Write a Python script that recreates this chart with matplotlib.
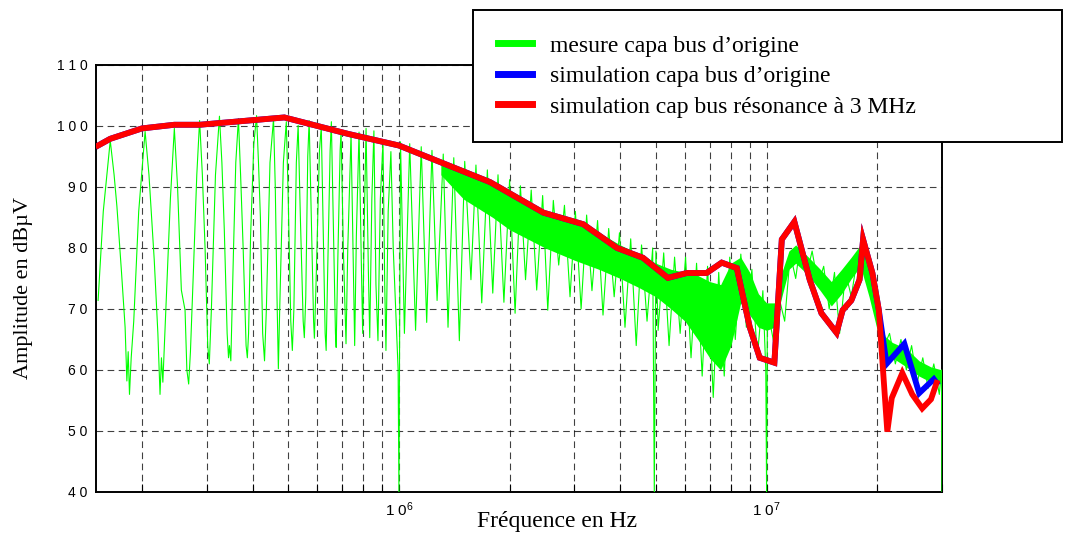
import matplotlib
matplotlib.use("Agg")
import matplotlib.pyplot as plt
import numpy as np

mes_f = [0.152, 0.157, 0.164, 0.168, 0.171, 0.176, 0.180, 0.182, 0.1835, 0.185, 0.187, 0.190, 0.196,
         0.204, 0.209, 0.216, 0.221, 0.224, 0.226, 0.228, 0.233, 0.239, 0.245, 0.250, 0.256, 0.262,
         0.265, 0.268, 0.271, 0.276, 0.282, 0.287, 0.292, 0.297, 0.302, 0.305, 0.309, 0.317, 0.325,
         0.330, 0.335, 0.341, 0.344, 0.346, 0.349, 0.355, 0.360, 0.366, 0.371, 0.377, 0.384, 0.387,
         0.390, 0.395, 0.403, 0.410, 0.415, 0.420, 0.426, 0.431, 0.436, 0.446, 0.456, 0.461, 0.466,
         0.470, 0.474, 0.485, 0.494, 0.500, 0.508, 0.513, 0.518, 0.526, 0.532, 0.540, 0.549, 0.553,
         0.558, 0.565, 0.570, 0.578, 0.586, 0.589, 0.595, 0.608, 0.615, 0.622, 0.630, 0.634, 0.640,
         0.650, 0.655, 0.664, 0.672, 0.675, 0.682, 0.692, 0.696, 0.706, 0.718, 0.726, 0.741, 0.752,
         0.758, 0.766, 0.779, 0.790, 0.797, 0.806, 0.814, 0.826, 0.833, 0.844, 0.855, 0.866, 0.877,
         0.890, 0.905, 0.915, 0.922, 0.935, 0.951, 0.965, 0.980, 0.995, 1.000,
         1.01, 1.035, 1.07, 1.11, 1.15, 1.19, 1.23, 1.27, 1.32, 1.36, 1.41, 1.46, 1.51, 1.57, 1.62,
         1.68, 1.74, 1.80, 1.86, 1.93, 2.00, 2.07, 2.14, 2.21, 2.29, 2.37, 2.46, 2.54, 2.63, 2.72,
         2.82, 2.92, 3.02, 3.13, 3.24, 3.35, 3.47, 3.59, 3.72, 3.85, 3.98, 4.12, 4.27, 4.42, 4.57,
         4.73, 4.90, 4.95, 5.00, 5.07, 5.25, 5.43, 5.62, 5.82, 6.02, 6.23, 6.45, 6.68, 6.91, 7.16,
         7.41, 7.67, 7.94, 8.22, 8.51, 8.81, 9.12, 9.44, 9.77, 9.95, 10.0, 10.05, 10.5, 10.8, 11.2,
         11.6, 12.0, 12.4, 12.9, 13.3, 13.8, 14.3, 14.8, 15.3, 15.8, 16.4, 17.0, 17.6, 18.2, 18.8,
         19.5, 20.2, 20.9, 21.6, 22.4, 23.2, 24.0, 24.8, 25.7, 26.6, 27.5, 28.5, 29.5, 29.9, 30.0]
mes_db = [71.4, 86.0, 97.6, 92.0, 86.8, 76.0, 67.0, 58.2, 63.0, 56.0, 62.0, 68.0, 86.0,
          99.1, 92.0, 78.1, 66.0, 56.0, 62.0, 58.0, 72.0, 88.0, 99.6, 90.0, 73.1, 69.8,
          60.0, 57.7, 63.0, 76.0, 92.0, 100.9, 92.0, 80.0, 64.0, 61.0, 70.0, 92.0, 101.6,
          94.0, 83.0, 66.0, 62.0, 64.0, 61.5, 80.0, 94.0, 101.2, 92.0, 80.0, 64.0, 62.0,
          66.0, 82.0, 97.0, 101.7, 94.0, 85.0, 66.0, 61.5, 70.0, 94.0, 101.2, 90.0, 72.0,
          60.2, 70.0, 94.0, 100.7, 88.0, 68.0, 63.2, 70.0, 94.0, 100.1, 84.0, 68.0, 65.3,
          72.0, 95.0, 100.9, 84.0, 68.0, 65.2, 74.0, 96.0, 99.9, 84.0, 66.0, 63.2, 76.0,
          96.0, 100.7, 82.0, 66.0, 63.7, 78.0, 96.0, 99.1, 80.0, 64.3, 80.0, 98.7, 76.0,
          64.0, 82.0, 99.0, 78.0, 66.0, 86.0, 99.6, 76.0, 65.3, 88.0, 99.2, 74.0, 64.8,
          88.0, 97.4, 74.0, 63.2, 86.0, 95.8, 80.0, 70.0, 60.0, 40.0,
          97.4, 66.0, 97.1, 66.5, 96.6, 67.8, 96.0, 71.4, 95.4, 67.0, 94.8, 64.8, 94.2, 74.8, 93.6,
          71.0, 92.8, 72.6, 92.0, 71.1, 91.2, 69.3, 90.2, 74.8, 89.5, 73.1, 88.6, 69.8, 87.8, 77.2,
          87.0, 72.0, 86.0, 70.0, 85.4, 73.0, 84.5, 69.0, 83.2, 72.0, 82.5, 67.0, 81.5, 64.0, 80.5,
          68.0, 80.0, 40.0, 79.5, 66.5, 79.2, 64.0, 78.5, 66.0, 78.5, 62.0, 77.5, 59.0, 77.0, 55.5,
          76.0, 59.0, 78.5, 65.0, 79.0, 67.0, 76.5, 62.0, 73.0, 60.0, 40.0, 70.0, 64.0, 72.0, 68.0,
          79.0, 75.0, 81.5, 76.0, 79.5, 74.0, 77.0, 70.0, 76.0, 66.0, 76.0, 72.0, 78.0, 76.0, 80.0,
          72.0, 71.0, 64.0, 66.0, 61.0, 65.0, 60.0, 64.0, 58.0, 62.0, 57.0, 61.0, 56.0, 60.0, 40.0]

# dense core of the measured band above 1.3 MHz
band_f = [1.3, 1.5, 1.8, 2, 2.5, 3, 3.5, 4, 4.5, 5, 5.5, 6, 6.5, 7, 7.5, 8, 8.5, 9, 9.5, 10,
          10.5, 11, 11.5, 12, 13, 14, 15, 16, 17, 18, 19, 20, 21, 22, 24, 26, 28, 30]
band_hi = [94.5, 92.5, 90.5, 89, 86, 84, 82.5, 80.5, 79, 77.5, 76.5, 76, 75.5, 74.5, 74, 77.5, 78.5,
           76, 72.5, 71, 71, 76, 79.5, 80.5, 78.5, 76.5, 74.5, 76.5, 78.5, 80.5, 76.5, 70.5, 65.5,
           64.5, 63.5, 61.5, 60.5, 60]
band_lo = [92, 88, 85, 83, 80, 78, 76.5, 75, 73.5, 72, 70, 68, 65, 62, 60, 64, 71, 69, 67,
           66.5, 67, 72, 76.5, 77.5, 75.5, 73, 70.5, 72.5, 75, 77, 72, 66.5, 62, 62, 60.5, 59, 58, 58]

# simulation, bus capacitor resonating at 3 MHz
res_f = [0.152, 0.164, 0.200, 0.245, 0.287, 0.488, 0.728, 1.00, 1.77, 2.47, 3.17, 3.92, 4.61,
         5.39, 6.07, 6.87, 7.55, 8.30, 9.00, 9.58, 10.5, 11.0, 11.9, 13.1, 14.1, 15.5, 16.1,
         17.0, 17.9, 18.3, 19.4, 20.2, 21.3, 21.9, 23.4, 24.9, 26.5, 28.0, 29.0]
res_db = [96.8, 97.9, 99.6, 100.2, 100.2, 101.4, 98.7, 96.8, 90.8, 85.8, 83.9, 80.0, 78.4,
          75.1, 75.9, 75.9, 77.6, 76.7, 67.0, 62.0, 61.2, 81.4, 84.3, 74.8, 69.3, 66.1, 69.8,
          71.4, 74.8, 81.4, 75.9, 69.8, 49.9, 55.4, 59.5, 56.0, 53.7, 55.2, 57.9]

# simulation, original bus capacitor (differs above 20 MHz)
orig_tail_f = [21.2, 23.7, 26.0, 28.5, 29.0]
orig_tail_db = [61.0, 64.3, 56.2, 58.5, 57.9]

ytick_vals = [40, 50, 60, 70, 80, 90, 100, 110]
ytick_labels = ["4 0", "5 0", "6 0", "7 0", "8 0", "9 0", "1 0 0", "1 1 0"]
xtick_vals = [1e6, 1e7]
xtick_labels = ["1 0$^{6}$", "1 0$^{7}$"]

plt.rcParams['mathtext.default'] = 'regular'
serif = ['Liberation Serif', 'DejaVu Serif']
narrow = ['Liberation Sans Narrow', 'Liberation Sans', 'DejaVu Sans']

fig = plt.figure(figsize=(10.69, 5.37), dpi=100)
ax = fig.add_axes([0.0898, 0.0838, 0.7914, 0.7952])

mf = np.array(mes_f) * 1e6
ax.fill_between(np.array(band_f) * 1e6, band_lo, band_hi, color='#00ff00', lw=0, zorder=2)
ax.plot(mf, mes_db, color='#00ff00', lw=0.8, zorder=3, label="mesure capa bus d\u2019origine")

k = res_f.index(20.2) + 1
orig_f = res_f[:k] + orig_tail_f
orig_db = res_db[:k] + orig_tail_db
ax.plot(np.array(orig_f) * 1e6, orig_db, color='#0000ff', lw=4.2, zorder=4,
        solid_joinstyle='miter', label="simulation capa bus d\u2019origine")
ax.plot(np.array(res_f) * 1e6, res_db, color='#ff0000', lw=4.2, zorder=5,
        solid_joinstyle='miter', label="simulation cap bus r\u00e9sonance \u00e0 3 MHz")

ax.set_xscale('log')
ax.set_xlim(1.5e5, 3e7)
ax.set_ylim(40, 110)

ax.set_yticks(ytick_vals)
ax.set_yticklabels(ytick_labels, family=narrow, fontsize=10)
ax.set_xticks(xtick_vals)
ax.set_xticklabels(xtick_labels, family=narrow, fontsize=11)
ax.xaxis.set_minor_formatter(matplotlib.ticker.NullFormatter())
ax.tick_params(axis='both', which='both', direction='in', length=6, width=0.8, pad=6)
ax.tick_params(axis='y', length=0)

ax.grid(True, which='both', axis='x', color='black', ls=(0, (6, 4)), lw=0.8, alpha=0.75)
ax.grid(True, which='major', axis='y', color='black', ls=(0, (6, 4)), lw=0.8, alpha=0.75)
ax.set_axisbelow(True)
for s in ax.spines.values():
    s.set_linewidth(1.4)

ax.set_xlabel("Fr\u00e9quence en Hz", family=serif, fontsize=17)
ax.xaxis.set_label_coords(0.545, -0.045)
ax.set_ylabel("Amplitude en dB\u00b5V", family=serif, fontsize=16)
ax.yaxis.set_label_coords(-0.075, 0.478)

leg = ax.legend(loc='upper left', bbox_to_anchor=(0.4425, 0.730, 0.551, 0.251),
                bbox_transform=fig.transFigure, mode='expand', fancybox=False,
                framealpha=1, edgecolor='black', prop={'family': serif, 'size': 17},
                handlelength=1.45, handletextpad=0.75, labelspacing=0.38, borderpad=1.05,
                borderaxespad=0)
leg.get_frame().set_linewidth(1.4)
for h in leg.legend_handles:
    h.set_linewidth(5)
leg.set_zorder(10)

plt.savefig('out.png', dpi=100)
